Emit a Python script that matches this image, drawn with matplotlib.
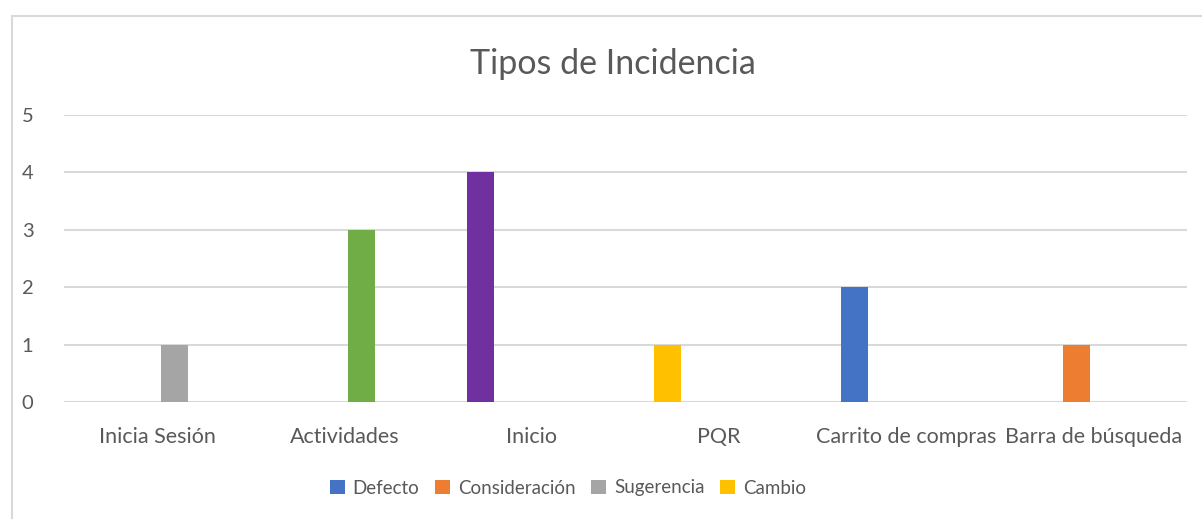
import matplotlib
matplotlib.use("Agg")
import matplotlib.pyplot as plt
from matplotlib.patches import Patch, Rectangle
import numpy as np

plt.rcParams['font.family'] = ['Lato', 'DejaVu Sans']

categories = ["Inicia Sesión", "Actividades", "Inicio", "PQR",
              "Carrito de compras", "Barra de búsqueda"]
series_names = ["Defecto", "Consideración", "Sugerencia", "Cambio"]
series_colors = ["#4472C4", "#ED7D31", "#A5A5A5", "#FFC000"]

# values per series (None = no entry for that category)
defecto = [None, None, 4, 1, 2, None]
consideracion = [None, None, None, None, None, 1]
sugerencia = [1, 3, None, None, None, None]
cambio = [None, None, None, None, None, None]
series_values = [defecto, consideracion, sugerencia, cambio]

# individually recoloured data points: (series index, category index) -> colour
point_colors = {
    (0, 2): "#7030A0",
    (0, 3): "#FFC000",
    (2, 1): "#70AD47",
}

W, H = 1202, 519
fig = plt.figure(figsize=(W / 100, H / 100), dpi=100)
fig.patch.set_facecolor("white")

# chart border
fig.add_artist(Rectangle((12 / W, -0.05), 1.2, 1 - 16 / H + 0.05,
                         transform=fig.transFigure, fill=False,
                         edgecolor="#D9D9D9", linewidth=1.5))

ax = fig.add_axes([64 / W, 117 / H, (1187 - 64) / W, (402 - 115) / H])
text_color = "#595959"

n = len(series_names)
bar_w = 0.144
step = 0.184
x = np.arange(len(categories))
for s, (vals, col) in enumerate(zip(series_values, series_colors)):
    offset = (s - (n - 1) / 2) * step
    for c, v in enumerate(vals):
        if v is None:
            continue
        ax.bar(x[c] + offset, v, width=bar_w,
               color=point_colors.get((s, c), col), zorder=3)

ax.set_xlim(-0.5, len(categories) - 0.5)
ax.set_ylim(0, 5)
ax.set_yticks(range(0, 6))
ax.set_xticks(x)
ax.set_xticklabels(categories)
ax.tick_params(axis="both", length=0, colors=text_color)
ax.tick_params(axis="y", pad=22, labelsize=14.5)
ax.tick_params(axis="x", pad=18, labelsize=15.5)
ax.grid(axis="y", color="#D9D9D9", linewidth=1.5, zorder=0)
ax.set_axisbelow(True)
for sp in ax.spines.values():
    sp.set_visible(False)

fig.text(613 / W, 1 - 64 / H, "Tipos de Incidencia", ha="center", va="center",
         fontsize=24.5, color=text_color)

handles = [Patch(facecolor=c, edgecolor="none") for c in series_colors]
fig.legend(handles, series_names, loc="center", ncol=4,
           bbox_to_anchor=(568 / W, 1 - 488 / H), frameon=False,
           fontsize=13.5, labelcolor=text_color, handlelength=0.8,
           handleheight=0.8, handletextpad=0.4, columnspacing=0.85)

fig.savefig("out.png", dpi=100)
